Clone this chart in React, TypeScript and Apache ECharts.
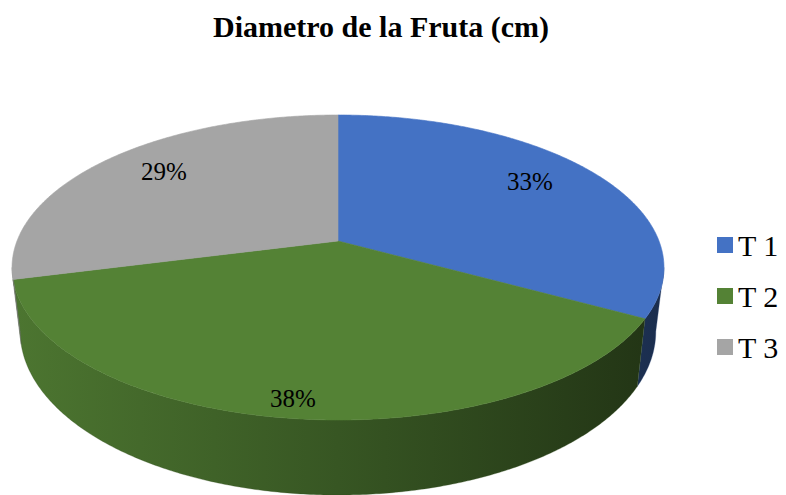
import React, { useEffect, useRef } from 'react';
import * as echarts from 'echarts';

const titleText = 'Diametro de la Fruta (cm)';
const categories = ['T 1', 'T 2', 'T 3'];
const values = [33, 38, 29];
const colors = ['#4472C4', '#548235', '#A5A5A5'];

// projection of the tilted disk (perspective)
const CX = 338;
const CY = 241;
const RX = 321;
const RY = 147.9;
const K = 0.1738;
const DEPTH = 62;
const SHRINK = 0.975;
const TH_R = Math.acos(-K);
const TH_L = 2 * Math.PI - Math.acos(-K);

function proj(theta: number, r: number, bottom: boolean): number[] {
  const u = Math.sin(theta) * r;
  const v = -Math.cos(theta) * r;
  const w = 1 - K * v;
  const s = bottom ? SHRINK : 1;
  return [CX + (RX * u / w) * s, CY + (RY * v) / w + (bottom ? DEPTH / w : 0)];
}

function shade(hex: string, f: number): string {
  const n = parseInt(hex.slice(1), 16);
  const r = Math.round(((n >> 16) & 255) * f);
  const g = Math.round(((n >> 8) & 255) * f);
  const b = Math.round((n & 255) * f);
  return `rgb(${r},${g},${b})`;
}

function arc(a0: number, a1: number, r: number, bottom: boolean): number[][] {
  const n = Math.max(2, Math.ceil(((a1 - a0) * 180) / Math.PI / 0.5));
  const pts: number[][] = [];
  for (let i = 0; i <= n; i++) {
    pts.push(proj(a0 + ((a1 - a0) * i) / n, r, bottom));
  }
  return pts;
}

export default function App() {
  const ref = useRef<HTMLDivElement>(null);
  useEffect(() => {
    document.body.style.margin = '0';
    if (!ref.current) return;
    const chart = echarts.init(ref.current, undefined, { renderer: 'svg' });
    const total = values.reduce((a, b) => a + b, 0);

    const renderItem = (params: any, api: any) => {
      const idx = params.seriesIndex;
      let start = 0;
      for (let i = 0; i < idx; i++) start += values[i];
      const val = api.value(0);
      const a0 = (start / total) * 2 * Math.PI;
      const a1 = ((start + val) / total) * 2 * Math.PI;
      const base = colors[idx];
      const children: any[] = [];

      const lo = Math.max(a0, TH_R);
      const hi = Math.min(a1, TH_L);
      if (hi > lo) {
        const topPts = arc(lo, hi, 1, false);
        const botPts = arc(lo, hi, 1, true).reverse();
        children.push({
          type: 'polygon',
          shape: { points: topPts.concat(botPts) },
          style: {
            fill: {
              type: 'linear',
              x: CX - RX,
              y: 0,
              x2: CX + RX,
              y2: 0,
              global: true,
              colorStops: [
                { offset: 0, color: shade(base, 0.9) },
                { offset: 0.5, color: shade(base, 0.66) },
                { offset: 1, color: shade(base, 0.4) },
              ],
            },
            stroke: shade(base, 0.6),
            lineWidth: 0.3,
          },
        });
      }

      const face = [proj(0, 0, false)].concat(arc(a0, a1, 1, false));
      children.push({
        type: 'polygon',
        shape: { points: face },
        style: { fill: base, stroke: base, lineWidth: 0.6 },
      });

      const mid = (a0 + a1) / 2;
      const vm = -Math.cos(mid);
      const rl = 0.74 + 0.2 * Math.max(0, vm);
      const p = proj(mid, rl, false);
      children.push({
        type: 'text',
        x: p[0],
        y: p[1] - 7,
        style: {
          legacy: false,
          text: Math.round((val / total) * 100) + '%',
          align: 'center',
          verticalAlign: 'middle',
          fill: '#000',
          fontSize: 25,
          fontFamily: 'Liberation Serif',
          fontWeight: 'normal',
        },
      });
      return { type: 'group', children };
    };

    chart.setOption({
      animation: false,
      textStyle: { fontFamily: 'Liberation Serif' },
      title: {
        text: titleText,
        left: 213,
        top: 11,
        padding: 0,
        textStyle: {
          fontFamily: 'Liberation Serif',
          fontWeight: 'bold',
          fontSize: 30,
          color: '#000',
        },
      },
      legend: {
        data: categories,
        orient: 'vertical',
        left: 717,
        top: 230,
        padding: 0,
        icon: 'rect',
        itemWidth: 16,
        itemHeight: 16,
        itemGap: 21,
        selectedMode: false,
        textStyle: {
          fontFamily: 'Liberation Serif',
          fontSize: 30,
          color: '#000',
        },
      },
      series: categories.map((name, i) => ({
        type: 'custom',
        name,
        coordinateSystem: 'none',
        renderItem,
        data: [[values[i]]],
        itemStyle: { color: colors[i] },
        silent: true,
      })),
    });
    return () => chart.dispose();
  }, []);
  return <div ref={ref} style={{ width: 786, height: 495 }} />;
}
